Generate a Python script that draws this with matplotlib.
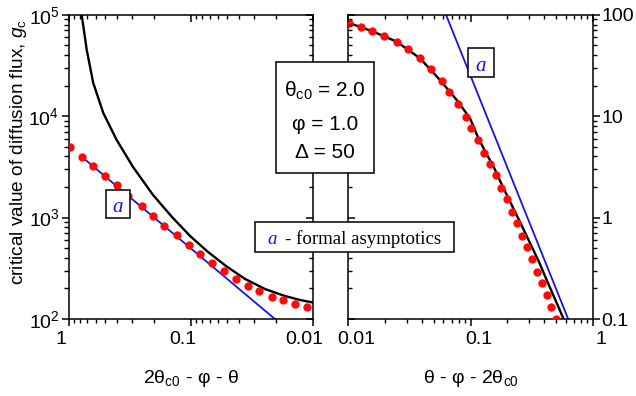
import matplotlib
matplotlib.use('Agg')
import matplotlib.pyplot as plt
from matplotlib.patches import Rectangle
from matplotlib.collections import LineCollection
from matplotlib.ticker import NullFormatter, FuncFormatter, LogLocator, FixedLocator
from matplotlib.transforms import ScaledTranslation, IdentityTransform
import numpy as np

plt.rcParams['font.family'] = ['Liberation Sans', 'DejaVu Sans']
plt.rcParams['mathtext.fontset'] = 'custom'
plt.rcParams['mathtext.rm'] = 'Liberation Sans'
plt.rcParams['mathtext.it'] = 'Liberation Sans:italic'
plt.rcParams['mathtext.bf'] = 'Liberation Sans:bold'

# ---------------- data ----------------
# left panel: x = 2*theta_c0 - phi - theta
left_black_x = [0.780, 0.709, 0.627, 0.519, 0.403, 0.296, 0.203, 0.142, 0.101, 0.0720,
                0.0513, 0.0358, 0.0246, 0.01686, 0.01271, 0.0100]
left_black_y = [100000, 44900, 21200, 10740, 5816, 3151, 1669, 1013, 658, 458,
                333, 248, 197.5, 168.5, 154, 145.5]
left_dots_x = [0.972, 0.780, 0.627, 0.502, 0.403, 0.326, 0.251, 0.204, 0.164, 0.130, 0.104,
               0.0838, 0.0672, 0.0532, 0.0427, 0.0341, 0.0274, 0.0217, 0.0174, 0.0140, 0.0112]
left_dots_y = [4955, 3981, 3243, 2583, 2090, 1629, 1298, 1035, 830, 672, 535,
               433, 353, 296, 247, 211, 188, 166, 153, 140, 132]
left_asym_x = [0.78, 0.0204]
left_asym_y = [3980, 100]

# right panel: x = theta - phi - 2*theta_c0
right_black_x = [0.0100, 0.01602, 0.02489, 0.03862, 0.05628, 0.07711, 0.0991, 0.1158, 0.1339,
                 0.1537, 0.1811, 0.2174, 0.2590, 0.3069, 0.3636, 0.4204, 0.4914, 0.5747]
right_black_y = [83.4, 68.0, 54.2, 37.2, 22.7, 14.42, 9.52, 6.09, 4.33,
                 3.22, 2.09, 1.33, 0.864, 0.561, 0.365, 0.242, 0.1574, 0.1016]
right_dots_x = [0.0102, 0.0126, 0.0157, 0.0197, 0.0249, 0.0310, 0.0386, 0.0472, 0.0581, 0.0671,
                0.0786, 0.0914, 0.101, 0.116, 0.130, 0.144, 0.161, 0.178, 0.198, 0.217,
                0.239, 0.262, 0.288, 0.317, 0.348, 0.383, 0.421, 0.456, 0.501]
right_dots_y = [82.3, 76.2, 69.1, 62.1, 54.2, 45.6, 37.2, 29.1, 22.2, 17.4,
                13.2, 9.86, 7.59, 5.81, 4.36, 3.37, 2.62, 1.97, 1.51, 1.14,
                0.875, 0.661, 0.508, 0.387, 0.292, 0.224, 0.172, 0.132, 0.101]
right_asym_x = [0.063, 0.63]
right_asym_y = [100, 0.1]

x_major = [0.01, 0.1, 1]
left_xlim = (1, 0.01)
left_ylim = (100, 1e5)
right_xlim = (0.01, 1)
right_ylim = (0.1, 100)

params = [r"$\mathrm{θ_{c0}}$ = 2.0", "φ = 1.0", "Δ = 50"]
xlabel_left = r"$\mathrm{2θ_{c0}}$ - φ - θ"
xlabel_right = r"θ - φ - $\mathrm{2θ_{c0}}$"
ylabel = r"critical value of diffusion flux, $g_\mathrm{c}$"
legend_rest = "- formal asymptotics"

# ---------------- figure ----------------
W, H = 636, 396
DPI = 100
fig = plt.figure(figsize=(W / DPI, H / DPI), dpi=DPI)


def fx(px):
    return px / W


def fy(py):
    return 1 - py / H


BLUE = '#1414e6'
RED = '#ff0a0a'
LW_AX = 1.1
MAJ_LEN, MIN_LEN = 5.0, 3.0        # points

rectL = [fx(68.5), fy(319), (312.7 - 68.5) / W, (319 - 14.7) / H]
rectR = [fx(348.3), fy(319), (592.7 - 348.3) / W, (319 - 14.7) / H]

fmt_g = FuncFormatter(lambda v, p: f"{v:g}")


def log_tick_values(lim):
    lo, hi = sorted(lim)
    major, minor = [], []
    for n in range(int(np.floor(np.log10(lo))), int(np.ceil(np.log10(hi))) + 1):
        b = 10.0 ** n
        if lo * (1 - 1e-9) <= b <= hi * (1 + 1e-9):
            major.append(b)
        for k in range(2, 10):
            if lo < k * b < hi:
                minor.append(k * b)
    return major, minor


def add_ticks(ax, xlim, ylim, yside):
    """Tick marks: outward on labelled sides, inward on mirrored sides."""
    bb = ax.bbox
    x0, x1, y0, y1 = bb.x0, bb.x1, bb.y0, bb.y1
    lens = {'major': MAJ_LEN * DPI / 72, 'minor': MIN_LEN * DPI / 72}
    segs = {'major': [], 'minor': []}
    xmaj, xmin = log_tick_values(xlim)
    ymaj, ymin = log_tick_values(ylim)
    for kind, vals in (('major', xmaj), ('minor', xmin)):
        L = lens[kind]
        for v in vals:
            px = ax.transData.transform((v, ylim[0]))[0]
            segs[kind].append([(px, y0), (px, y0 - L)])
            segs[kind].append([(px, y1), (px, y1 - L)])
    for kind, vals in (('major', ymaj), ('minor', ymin)):
        L = lens[kind]
        for v in vals:
            py = ax.transData.transform((xlim[0], v))[1]
            if yside == 'left':
                segs[kind].append([(x0, py), (x0 - L, py)])
                segs[kind].append([(x1, py), (x1 - L, py)])
            else:
                segs[kind].append([(x1, py), (x1 + L, py)])
                segs[kind].append([(x0, py), (x0 + L, py)])
    fig.add_artist(LineCollection(segs['major'], colors='black', linewidths=LW_AX,
                                  transform=IdentityTransform(), zorder=4))
    fig.add_artist(LineCollection(segs['minor'], colors='black', linewidths=1.0,
                                  transform=IdentityTransform(), zorder=4))


def make_panel(rect, xlim, ylim, yside, label_dx):
    ax = fig.add_axes(rect)
    ax.set_xscale('log')
    ax.set_yscale('log')
    ax.set_xlim(*xlim)
    ax.set_ylim(*ylim)
    ax.xaxis.set_major_locator(FixedLocator(x_major))
    ax.xaxis.set_minor_locator(LogLocator(base=10, subs=np.arange(2, 10)))
    ax.yaxis.set_minor_locator(LogLocator(base=10, subs=np.arange(2, 10)))
    ax.xaxis.set_minor_formatter(NullFormatter())
    ax.yaxis.set_minor_formatter(NullFormatter())
    ax.xaxis.set_major_formatter(fmt_g)
    if yside == 'right':
        ax.yaxis.set_major_formatter(fmt_g)
    for s in ax.spines.values():
        s.set_linewidth(LW_AX)
    # native ticks hidden (drawn explicitly below); labels keep their offset
    ax.tick_params(axis='x', which='both', bottom=True, top=False, length=0,
                   labelbottom=True, labeltop=False, labelsize=14, pad=3.5 + MAJ_LEN)
    ax.tick_params(axis='y', which='both', length=0,
                   left=(yside == 'left'), right=(yside == 'right'),
                   labelleft=(yside == 'left'), labelright=(yside == 'right'),
                   labelsize=14, pad=1.5 + MAJ_LEN)
    off = ScaledTranslation(label_dx / DPI, 0, fig.dpi_scale_trans)
    for lab in ax.xaxis.get_majorticklabels():
        lab.set_transform(lab.get_transform() + off)
    add_ticks(ax, xlim, ylim, yside)
    return ax


axL = make_panel(rectL, left_xlim, left_ylim, 'left', -8)
axR = make_panel(rectR, right_xlim, right_ylim, 'right', 8)

axL.plot(left_asym_x, left_asym_y, color=BLUE, lw=1.3, zorder=2)
axL.plot(left_black_x, left_black_y, color='black', lw=1.7, zorder=3)
axL.plot(left_dots_x, left_dots_y, 'o', color=RED, ms=6, mec='none', zorder=4)

axR.plot(right_asym_x, right_asym_y, color=BLUE, lw=1.3, zorder=2)
axR.plot(right_black_x, right_black_y, color='black', lw=1.7, zorder=3)
axR.plot(right_dots_x, right_dots_y, 'o', color=RED, ms=6, mec='none', zorder=4)


def box(x0, y0, x1, y1):
    fig.add_artist(Rectangle((fx(x0), fy(y1)), (x1 - x0) / W, (y1 - y0) / H,
                             transform=fig.transFigure, facecolor='white',
                             edgecolor='black', lw=LW_AX, zorder=5))


box(275.7, 62, 374, 173.3)
for txt, yb in zip(params, [97, 130, 157.5]):
    fig.text(fx(325), fy(yb), txt, ha='center', va='baseline', fontsize=15, zorder=6)

box(255, 221.7, 454, 251.7)
fig.text(fx(267), fy(243.5), 'a', ha='left', va='baseline', fontsize=13.6, color=BLUE,
         family='Liberation Serif', style='italic', zorder=6)
fig.text(fx(285), fy(243.5), legend_rest, ha='left', va='baseline', fontsize=13.6,
         family='Liberation Serif', zorder=6)

box(106, 190, 130, 218.3)
fig.text(fx(118), fy(211.7), 'a', ha='center', va='baseline', fontsize=15, color=BLUE,
         family='Liberation Serif', style='italic', zorder=6)
box(467.7, 48.3, 494.3, 77.3)
fig.text(fx(481), fy(70.7), 'a', ha='center', va='baseline', fontsize=15, color=BLUE,
         family='Liberation Serif', style='italic', zorder=6)

fig.text(fx(190.6), fy(383), xlabel_left, ha='center', va='baseline', fontsize=14)
fig.text(fx(470.5), fy(383), xlabel_right, ha='center', va='baseline', fontsize=14)
fig.text(fx(19), fy(152), ylabel, ha='center', va='center', rotation=90, fontsize=13.7)

fig.savefig('out.png', dpi=DPI)
